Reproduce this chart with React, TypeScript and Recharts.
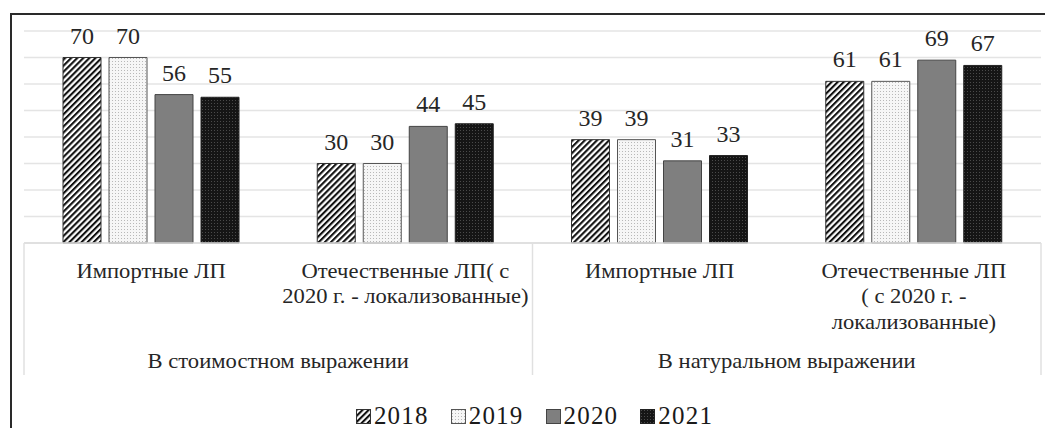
import React from 'react';
import { BarChart, Bar, XAxis, YAxis, CartesianGrid, Legend, LabelList } from 'recharts';

const categories = ['imp1', 'dom1', 'imp2', 'dom2'];
const tickLabels: string[][] = [
  ['Импортные ЛП'],
  ['Отечественные ЛП( с', '2020 г. - локализованные)'],
  ['Импортные ЛП'],
  ['Отечественные ЛП', '( с 2020 г. -', 'локализованные)'],
];
const groupLabels = ['В стоимостном выражении', 'В натуральном  выражении'];
const years = ['2018', '2019', '2020', '2021'];
const v2018 = [70, 30, 39, 61];
const v2019 = [70, 30, 39, 61];
const v2020 = [56, 44, 31, 69];
const v2021 = [55, 45, 33, 67];
const yTicks = [0, 10, 20, 30, 40, 50, 60, 70, 80];

const data = categories.map((c, i) => ({
  name: c,
  y2018: v2018[i],
  y2019: v2019[i],
  y2020: v2020[i],
  y2021: v2021[i],
}));

const W = 1045;
const H = 428;
const M = { top: 31, right: 4, bottom: 0, left: 24 };
const BAND = (W - M.left - M.right) / categories.length;
const FONT = "'Liberation Serif', 'Times New Roman', serif";
const SX = 1.13;
const LEG_H = 22;

const seriesStyle = [
  { key: 'y2018', fill: 'url(#p2018)', stroke: '#333' },
  { key: 'y2019', fill: 'url(#p2019)', stroke: '#555' },
  { key: 'y2020', fill: '#7f7f7f', stroke: '#444' },
  { key: 'y2021', fill: 'url(#p2021)', stroke: '#222' },
];

const CatTick = (props: any) => {
  const { x, y, index } = props;
  const lines = tickLabels[index] || [];
  return (
    <g>
      <g transform={`translate(${x},${y}) scale(${SX},1)`}>
        {lines.map((l, i) => (
          <text key={i} x={0} y={35 + i * 25.5} textAnchor="middle" fontFamily={FONT} fontSize={20} fill="#262626">
            {l}
          </text>
        ))}
      </g>
      {index % 2 === 0 && (
        <>
          <line x1={x - BAND / 2} x2={x - BAND / 2} y1={y} y2={y + 132} stroke="#e0e0e0" strokeWidth={1.5} />
          <g transform={`translate(${x + BAND / 2},${y}) scale(${SX},1)`}>
            <text x={0} y={125} textAnchor="middle" fontFamily={FONT} fontSize={20} fill="#262626">
              {groupLabels[index / 2]}
            </text>
          </g>
        </>
      )}
      {index === categories.length - 1 && (
        <line x1={x + BAND / 2} x2={x + BAND / 2} y1={y} y2={y + 132} stroke="#e0e0e0" strokeWidth={1.5} />
      )}
    </g>
  );
};

const LegendContent = () => (
  <div style={{ display: 'flex', justifyContent: 'center', alignItems: 'center', height: LEG_H, fontFamily: FONT, fontSize: 25, color: '#1a1a1a', paddingLeft: 24 }}>
    {years.map((yr, i) => (
      <div key={yr} style={{ display: 'flex', alignItems: 'center', height: LEG_H, marginRight: i < years.length - 1 ? 22 : 0 }}>
        <svg width={15} height={15} style={{ marginRight: 3 }}>
          <rect x={0.5} y={0.5} width={14} height={14} fill={seriesStyle[i].fill} stroke={seriesStyle[i].stroke} strokeWidth={1} />
        </svg>
        <span style={{ lineHeight: `${LEG_H}px`, letterSpacing: '1.2px' }}>{yr}</span>
      </div>
    ))}
  </div>
);

export default function App() {
  return (
    <div style={{ position: 'absolute', left: 0, top: 0, width: W, height: H, background: '#fff', overflow: 'hidden', fontFamily: FONT }}>
      <div style={{ position: 'absolute', left: 10, top: 13, width: W, height: H, borderTop: '2px solid #2a2a2a', borderLeft: '2px solid #2a2a2a', boxSizing: 'border-box' }} />
      <div style={{ position: 'absolute', left: 0, top: 0 }}>
        <BarChart width={W} height={H} data={data} margin={M} barSize={38} barGap={8} barCategoryGap={38}>
          <defs>
            <pattern id="p2018" patternUnits="userSpaceOnUse" width={4.3} height={4.3} patternTransform="rotate(45)">
              <rect width={4.3} height={4.3} fill="#fff" />
              <rect x={0} y={0} width={2.1} height={4.3} fill="#111" />
            </pattern>
            <pattern id="p2019" patternUnits="userSpaceOnUse" width={3} height={3}>
              <rect width={3} height={3} fill="#f6f6f6" />
              <rect x={1} y={1} width={1} height={1} fill="#b8b8b8" />
            </pattern>
            <pattern id="p2021" patternUnits="userSpaceOnUse" width={3} height={3}>
              <rect width={3} height={3} fill="#151515" />
              <rect x={1} y={1} width={1} height={1} fill="#4a4a4a" />
            </pattern>
          </defs>
          <CartesianGrid vertical={false} stroke="#e4e4e4" strokeWidth={1.5} />
          <YAxis hide domain={[0, 80]} ticks={yTicks} />
          <XAxis
            dataKey="name"
            height={H - M.top - 212 - LEG_H}
            tickSize={0}
            tickMargin={0}
            tickLine={false}
            axisLine={{ stroke: '#dcdcdc', strokeWidth: 1.5 }}
            tick={<CatTick />}
            interval={0}
          />
          <Legend verticalAlign="bottom" content={<LegendContent />} wrapperStyle={{ left: 0, width: W, top: H - LEG_H - 1 }} />
          {seriesStyle.map((s, i) => (
            <Bar key={s.key} dataKey={s.key} name={years[i]} fill={s.fill} stroke={s.stroke} strokeWidth={1} isAnimationActive={false}>
              <LabelList dataKey={s.key} position="top" offset={14} fontFamily={FONT} fontSize={24} fill="#262626" />
            </Bar>
          ))}
        </BarChart>
      </div>
    </div>
  );
}
